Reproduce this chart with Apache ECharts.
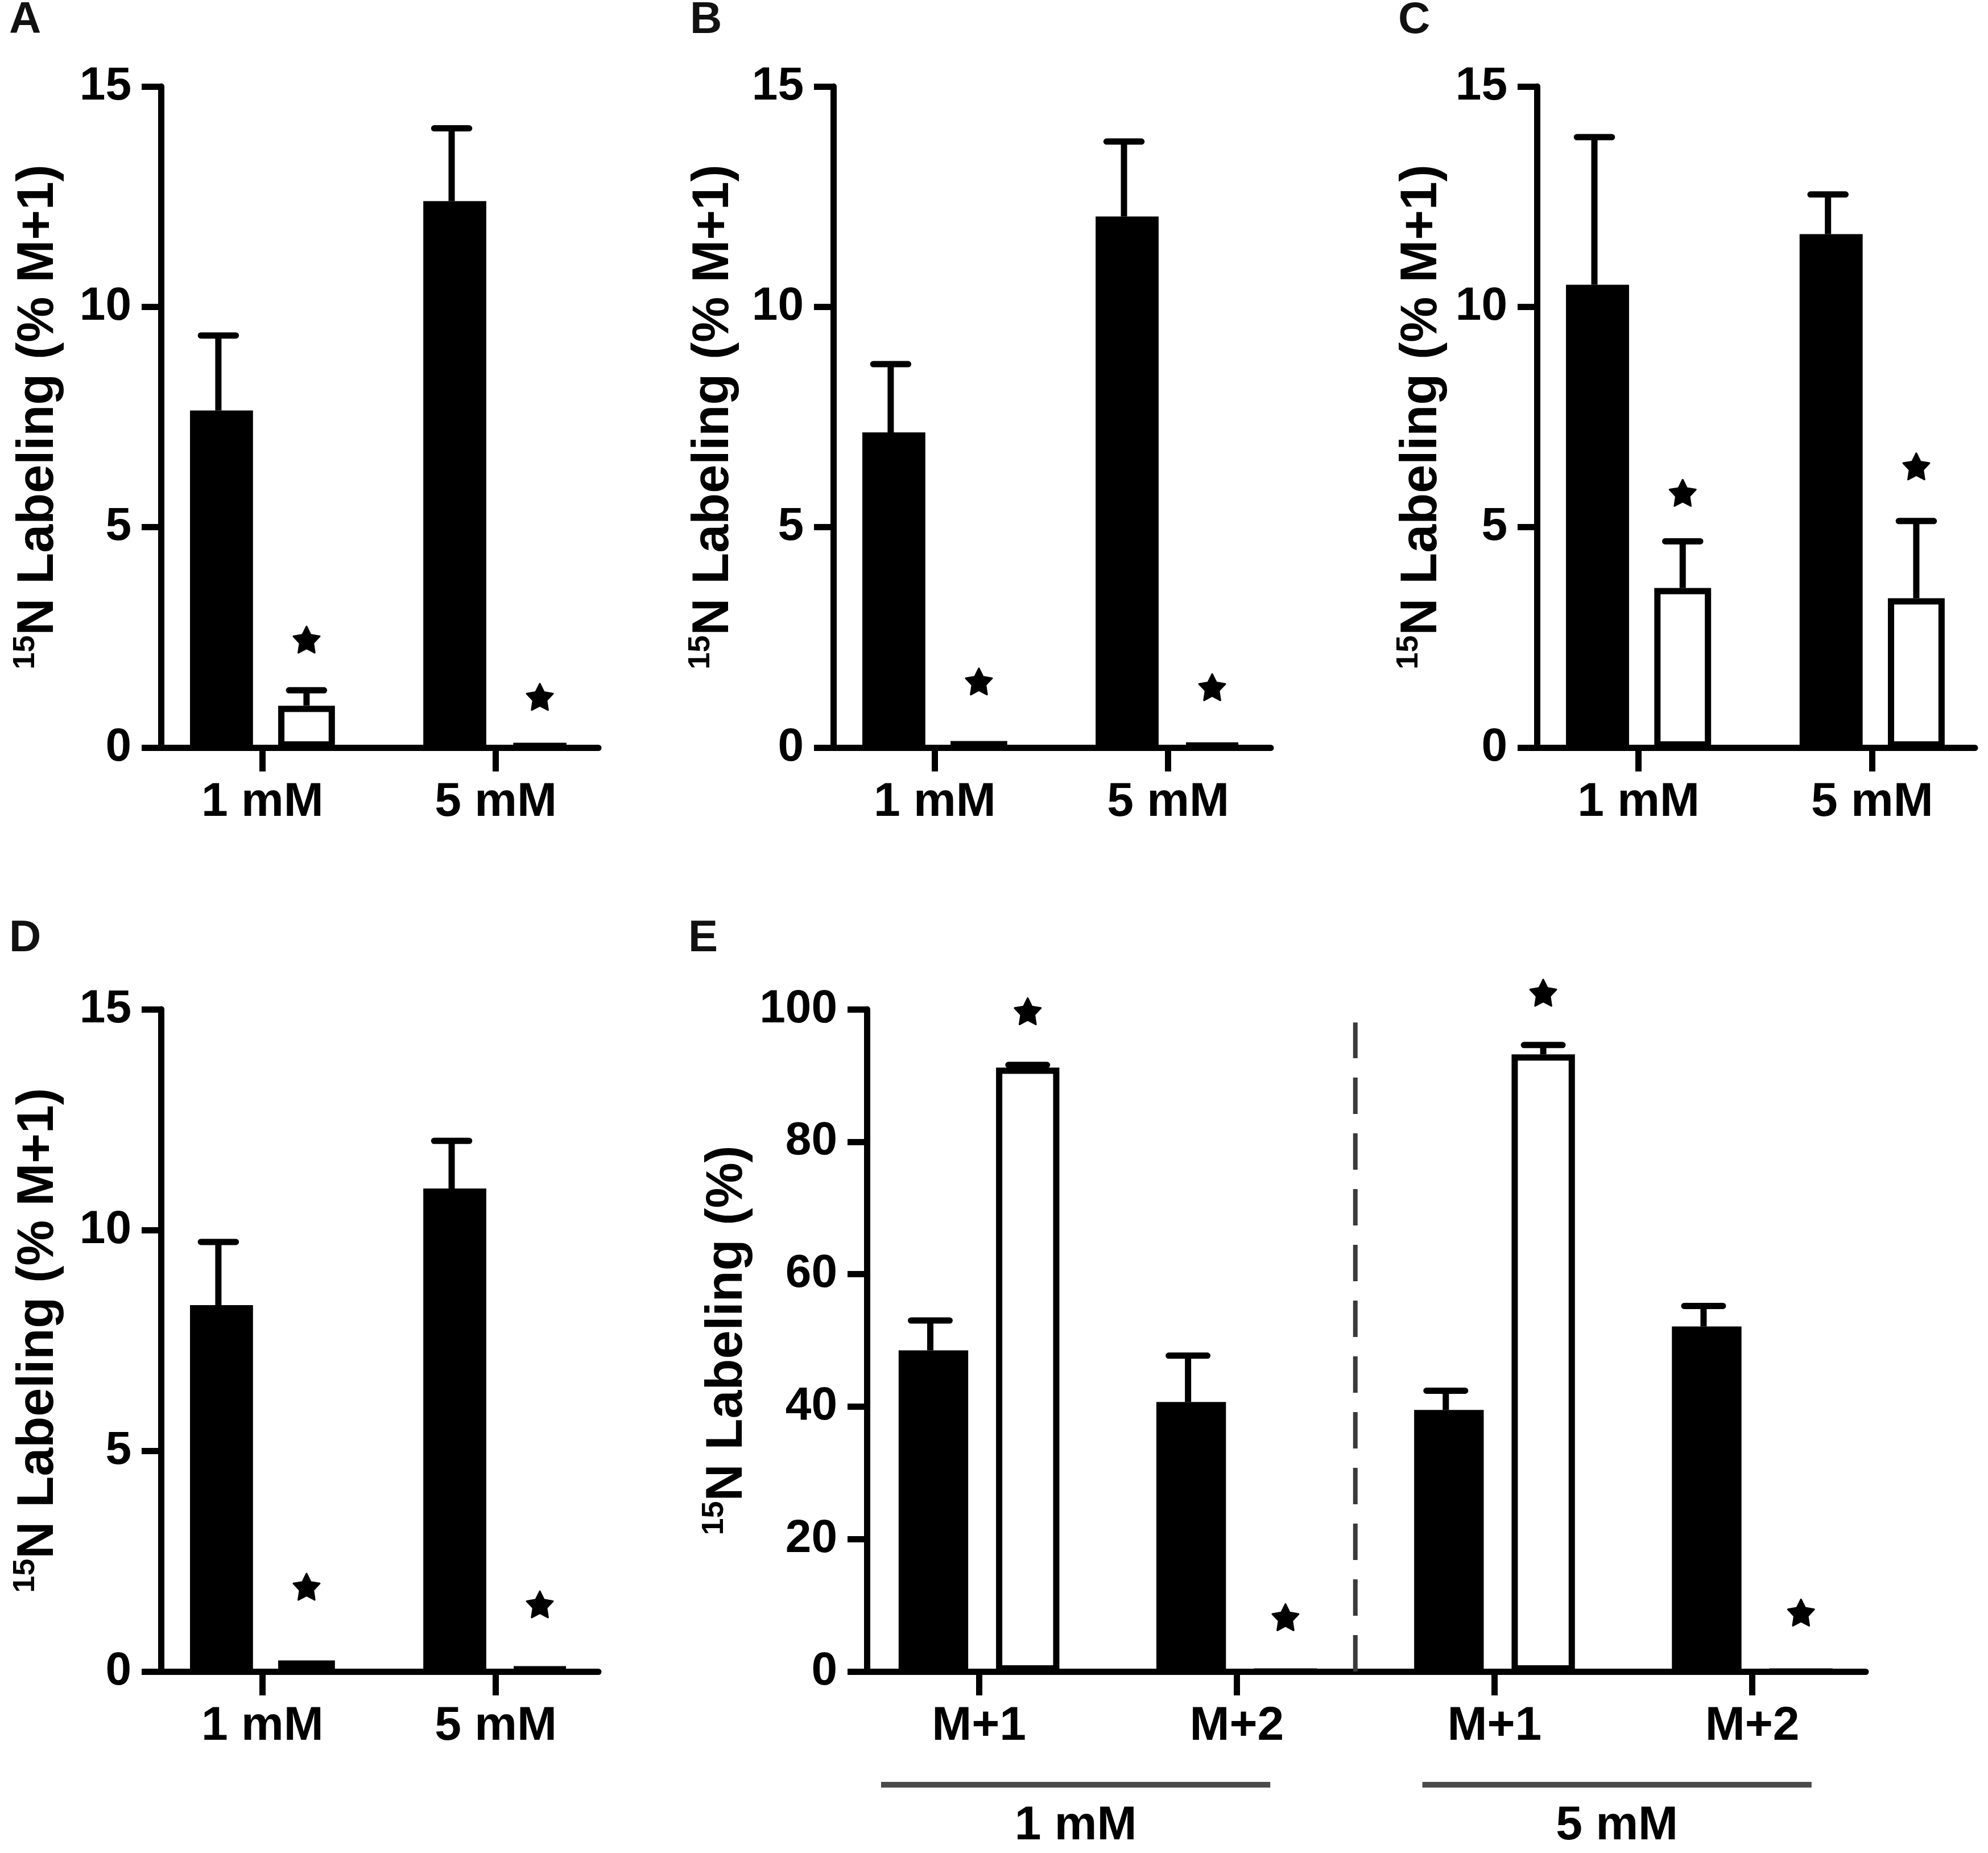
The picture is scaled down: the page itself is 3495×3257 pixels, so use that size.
<!DOCTYPE html>
<html><head><meta charset="utf-8">
<script src="https://cdn.jsdelivr.net/npm/echarts@6/dist/echarts.min.js"></script>
<style>html,body{margin:0;padding:0;background:#fff}#chart{width:3495px;height:3257px}</style>
</head><body><div id="chart"></div>
<script>
// ---------------- data ----------------
const panelLetters = ['A', 'B', 'C', 'D', 'E'];
const concCategories = ['1 mM', '5 mM'];
const isotopeCategories = ['M+1', 'M+2', 'M+1', 'M+2'];
const groupLabels = ['1 mM', '5 mM'];
const groupSpans = [[-0.38, 1.13], [1.72, 3.23]];

const yTicksPanelAD = [0, 5, 10, 15];
const yTicksPanelE = [0, 20, 40, 60, 80, 100];
const yNameMain = 'N Labeling (% M+1)';
const yNameE = 'N Labeling (%)';
const yNameSup = '15';

// Panel A
const A_black = [7.65, 12.4];
const A_blackErr = [1.7, 1.65];
const A_white = [0.95, 0.08];
const A_whiteErr = [0.35, 0];
const A_stars = [2.45, 1.15];
// Panel B
const B_black = [7.15, 12.05];
const B_blackErr = [1.55, 1.7];
const B_white = [0.15, 0.1];
const B_whiteErr = [0, 0];
const B_stars = [1.5, 1.37];
// Panel C
const C_black = [10.5, 11.65];
const C_blackErr = [3.35, 0.9];
const C_white = [3.62, 3.39];
const C_whiteErr = [1.06, 1.75];
const C_stars = [5.78, 6.38];
// Panel D
const D_black = [8.3, 10.94];
const D_blackErr = [1.43, 1.08];
const D_white = [0.25, 0.1];
const D_whiteErr = [0, 0];
const D_stars = [1.92, 1.52];
// Panel E
const E_black = [48.5, 40.7, 39.5, 52.1];
const E_blackErr = [4.5, 7.0, 2.9, 3.1];
const E_white = [91.2, 0, 93.2, 0];
const E_whiteErr = [0.4, 0, 1.4, 0];
const E_stars = [99.7, 8.2, 102.5, 8.9];
const E_separatorX = 1.46;
const E_separatorTop = 98;

// ---------------- layout / style ----------------
const FONT = "'Liberation Sans', Arial, Helvetica, sans-serif";
const INK = '#000';
const AXIS_W = 11;
const BAR_FRAC = 0.27;      // bar width in category units
const BAR_GAP = 0.4;        // gap as fraction of bar width
const OFFSET = BAR_FRAC * (1 + BAR_GAP) / 2;
const CAP_HALF = 0.075;
const X_MIN = -0.435, X_PAD = 0.44;

const grids = [
  { left: 283, top: 152, width: 769, height: 1162 },
  { left: 1465, top: 152, width: 769, height: 1162 },
  { left: 2702, top: 152, width: 770, height: 1162 },
  { left: 283, top: 1774, width: 769, height: 1164 },
  { left: 1524, top: 1774, width: 1756, height: 1164 }
];
const letterPos = [[16, -3], [1213, -3], [2458, -3], [16, 1611], [1210, 1611]];
const nameGaps = [165, 160, 152, 165, 190];

const panels = [
  { cats: concCategories, black: A_black, blackErr: A_blackErr, white: A_white, whiteErr: A_whiteErr, stars: A_stars, ticks: yTicksPanelAD, name: yNameMain },
  { cats: concCategories, black: B_black, blackErr: B_blackErr, white: B_white, whiteErr: B_whiteErr, stars: B_stars, ticks: yTicksPanelAD, name: yNameMain },
  { cats: concCategories, black: C_black, blackErr: C_blackErr, white: C_white, whiteErr: C_whiteErr, stars: C_stars, ticks: yTicksPanelAD, name: yNameMain },
  { cats: concCategories, black: D_black, blackErr: D_blackErr, white: D_white, whiteErr: D_whiteErr, stars: D_stars, ticks: yTicksPanelAD, name: yNameMain },
  { cats: isotopeCategories, black: E_black, blackErr: E_blackErr, white: E_white, whiteErr: E_whiteErr, stars: E_stars, ticks: yTicksPanelE, name: yNameE }
];

const STAR_PATH = 'M50,4 L64,31 L95,36 L73,58 L78,89 L50,75 L22,89 L27,58 L5,36 L36,31 Z';
const STAR_SIZE = 46;

function errRender(off) {
  return function (params, api) {
    const x = api.value(0), v = api.value(1), e = api.value(2);
    if (!(e > 0)) return null;
    const base = api.coord([x + off, v]);
    const top = api.coord([x + off, v + e]);
    const l = api.coord([x + off - CAP_HALF, v + e]);
    const r = api.coord([x + off + CAP_HALF, v + e]);
    return {
      type: 'group', children: [
        { type: 'line', shape: { x1: base[0], y1: base[1], x2: top[0], y2: top[1] }, style: { stroke: INK, lineWidth: AXIS_W } },
        { type: 'line', shape: { x1: l[0], y1: l[1], x2: r[0], y2: r[1] }, style: { stroke: INK, lineWidth: AXIS_W, lineCap: 'round' } }
      ]
    };
  };
}
function starRender(params, api) {
  const p = api.coord([api.value(0) + OFFSET, api.value(1)]);
  return {
    type: 'path',
    shape: { pathData: STAR_PATH, x: p[0] - STAR_SIZE / 2, y: p[1] - STAR_SIZE / 2, width: STAR_SIZE, height: STAR_SIZE, layout: 'cover' },
    style: { fill: INK, stroke: INK, lineWidth: 3, lineJoin: 'round' }
  };
}

const option = {
  backgroundColor: '#fff',
  animation: false,
  title: panelLetters.map((t, i) => ({
    text: t, left: letterPos[i][0], top: letterPos[i][1], padding: 0,
    textStyle: { fontFamily: FONT, fontSize: 78, fontWeight: 'bold', color: '#111' }
  })),
  grid: grids.map(g => Object.assign({ containLabel: false }, g)),
  xAxis: [], yAxis: [], series: []
};

panels.forEach((p, i) => {
  const n = p.cats.length;
  const idx = p.cats.map((c, k) => k);
  const xMax = (n - 1) + X_PAD;
  const pxPerUnit = grids[i].width / (xMax - X_MIN);
  option.xAxis.push({
    type: 'value', gridIndex: i, min: X_MIN, max: xMax,
    axisLine: { show: true, onZero: false, lineStyle: { color: INK, width: AXIS_W } },
    axisTick: { show: true, length: 42, customValues: idx, lineStyle: { color: INK, width: AXIS_W } },
    axisLabel: {
      show: true, customValues: idx, margin: 55,
      formatter: v => p.cats[Math.round(v)],
      fontFamily: FONT, fontSize: 84, fontWeight: 'bold', color: INK
    },
    splitLine: { show: false }
  });
  const tks = p.ticks;
  option.yAxis.push({
    type: 'value', gridIndex: i, min: tks[0], max: tks[tks.length - 1], interval: tks[1] - tks[0],
    axisLine: { show: true, onZero: false, lineStyle: { color: INK, width: AXIS_W } },
    axisTick: { show: true, length: 34, lineStyle: { color: INK, width: AXIS_W } },
    axisLabel: { fontFamily: FONT, fontSize: 82, fontWeight: 'bold', color: INK, margin: 52 },
    splitLine: { show: false },
    name: '{sup|' + yNameSup + '}{main|' + p.name + '}',
    nameLocation: 'middle', nameGap: nameGaps[i], nameRotate: 90,
    nameTextStyle: {
      color: INK,
      rich: {
        sup: { fontFamily: FONT, fontSize: 54, fontWeight: 'bold', color: INK, lineHeight: 54, verticalAlign: 'top' },
        main: { fontFamily: FONT, fontSize: 90, fontWeight: 'bold', color: INK, lineHeight: 100, verticalAlign: 'middle' }
      }
    }
  });
  const barW = pxPerUnit * BAR_FRAC;
  option.series.push({
    type: 'bar', xAxisIndex: i, yAxisIndex: i, barWidth: barW, barGap: (BAR_GAP * 100) + '%',
    data: p.black.map((v, k) => [k, v]),
    itemStyle: { color: INK }, z: 2
  });
  option.series.push({
    type: 'bar', xAxisIndex: i, yAxisIndex: i, barWidth: barW - AXIS_W, barGap: (BAR_GAP * 100) + '%',
    data: p.white.map((v, k) => [k, v]),
    itemStyle: { color: '#fff', borderColor: INK, borderWidth: AXIS_W }, z: 2
  });
  option.series.push({
    type: 'custom', xAxisIndex: i, yAxisIndex: i, z: 3,
    data: p.black.map((v, k) => [k, v, p.blackErr[k]]),
    renderItem: errRender(-OFFSET)
  });
  option.series.push({
    type: 'custom', xAxisIndex: i, yAxisIndex: i, z: 3,
    data: p.white.map((v, k) => [k, v, p.whiteErr[k]]),
    renderItem: errRender(OFFSET)
  });
  option.series.push({
    type: 'custom', xAxisIndex: i, yAxisIndex: i, z: 3,
    data: p.stars.map((v, k) => [k, v]),
    renderItem: starRender
  });
});

// dashed separator between the two concentration groups in panel E
option.series.push({
  type: 'custom', xAxisIndex: 4, yAxisIndex: 4, z: 1, silent: true,
  data: [[E_separatorX, 0, E_separatorTop]],
  renderItem: function (params, api) {
    const a = api.coord([api.value(0), api.value(1)]);
    const b = api.coord([api.value(0), api.value(2)]);
    return {
      type: 'line', shape: { x1: a[0], y1: a[1], x2: b[0], y2: b[1] },
      style: { stroke: '#3a3a3a', lineWidth: 8, lineDash: [64, 34] }
    };
  }
});

// group brackets under panel E
option.series.push({
  type: 'custom', xAxisIndex: 4, yAxisIndex: 4, z: 3, silent: true,
  data: groupSpans.map((s, k) => [s[0], 0, s[1], k]),
  renderItem: function (params, api) {
    const a = api.coord([api.value(0), 0]);
    const b = api.coord([api.value(2), 0]);
    const label = groupLabels[api.value(3)];
    return {
      type: 'group', children: [
        { type: 'line', shape: { x1: a[0], y1: a[1] + 199, x2: b[0], y2: b[1] + 199 }, style: { stroke: '#4a4a4a', lineWidth: 10 } },
        { type: 'text', x: (a[0] + b[0]) / 2, y: a[1] + 272, style: { text: label, fill: INK, font: 'bold 84px ' + FONT, textAlign: 'center', textVerticalAlign: 'middle' } }
      ]
    };
  }
});

const chart = echarts.init(document.getElementById('chart'), null, { renderer: 'canvas', width: 3495, height: 3257 });
chart.setOption(option);
</script>
</body></html>
